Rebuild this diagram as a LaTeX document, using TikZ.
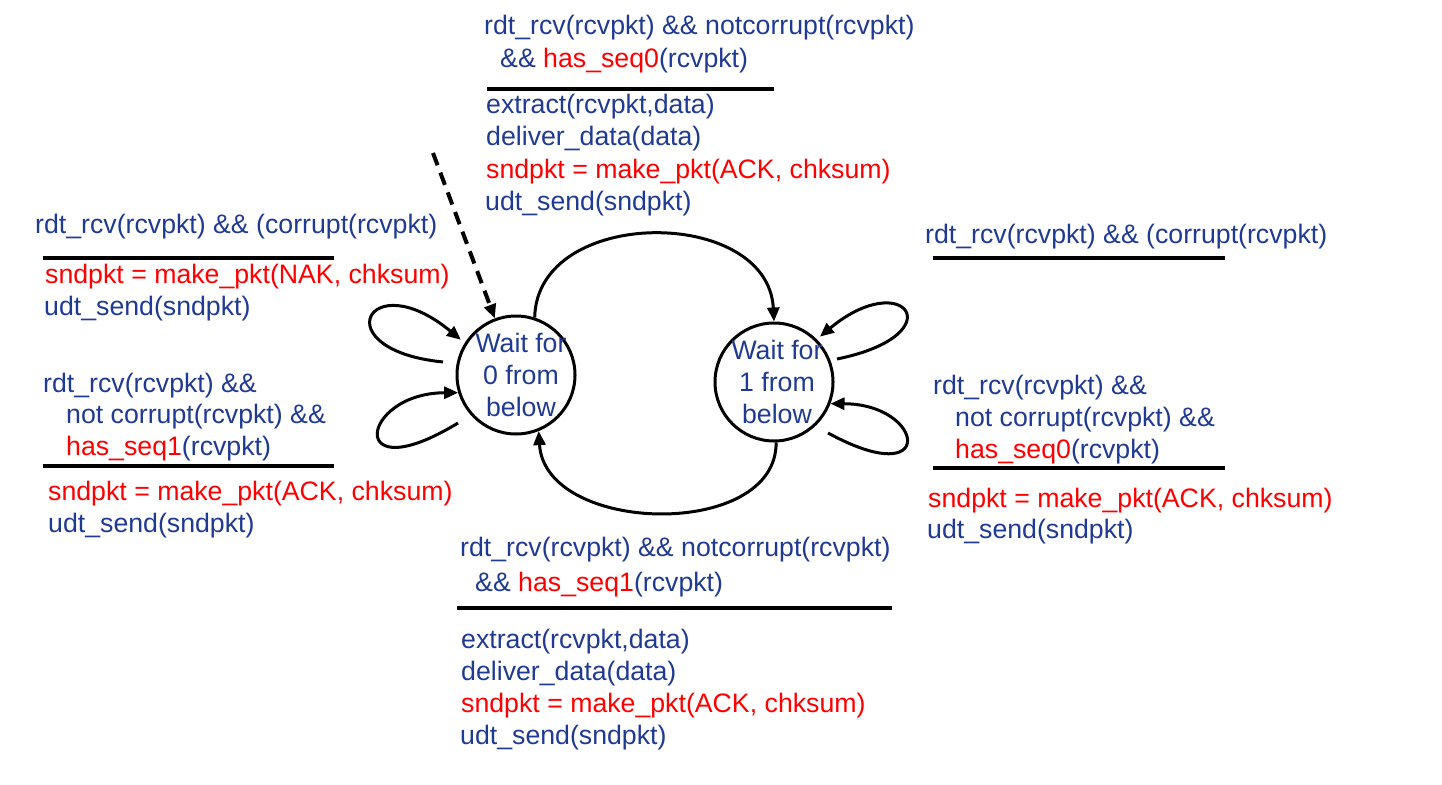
\documentclass[tikz,border=0pt]{standalone}
\usepackage{fontspec}
\setmainfont{Liberation Sans}
\usetikzlibrary{arrows.meta}
\definecolor{myblue}{RGB}{31,58,147}
\definecolor{myred}{RGB}{255,0,0}
\newcommand{\redtxt}[1]{\textcolor{myred}{#1}}
\begin{document}
\begin{tikzpicture}[x=1pt,y=-1pt,
  lbl/.style={anchor=base west, inner sep=0pt, font=\fontsize{26.7}{32}\selectfont, text=myblue},
  rlbl/.style={lbl, text=myred},
  bar/.style={line width=4pt},
  state/.style={circle, draw, line width=3pt, minimum size=118pt, inner sep=0pt},
  stxt/.style={align=center, inner sep=0pt, font=\fontsize{26.7}{32}\selectfont, text=myblue},
  arr/.style={line width=3pt, -{Triangle[length=14pt,width=12pt]}},
]
\useasboundingbox (0,0) rectangle (1442,784);

% states
\node[state] (s0) at (516,375) {};
\node[stxt] (s0t) at ([xshift=5pt]s0.center) {Wait for\\0 from\\below};
\node[state] (s1) at (774,382) {};
\node[stxt] (s1t) at ([xshift=3pt]s1.center) {Wait for\\1 from\\below};

% top block
\node[lbl] (t1) at (484,35) {rdt\_rcv(rcvpkt) \&\& notcorrupt(rcvpkt)};
\node[lbl] (t2) at (500,67) {\&\& \redtxt{has\_seq0}(rcvpkt)};
\draw[bar] (487,89) -- (774,89);
\node[lbl] (t3) at (486,113) {extract(rcvpkt,data)};
\node[lbl] (t4) at (486,145) {deliver\_data(data)};
\node[rlbl] (t5) at (486,178) {sndpkt = make\_pkt(ACK, chksum)};
\node[lbl] (t6) at (485,210) {udt\_send(sndpkt)};

% left upper
\node[lbl] (lu1) at (35,233) {rdt\_rcv(rcvpkt) \&\& (corrupt(rcvpkt)};
\draw[bar] (43,258) -- (334,258);
\node[rlbl] (lu2) at (45,283) {sndpkt = make\_pkt(NAK, chksum)};
\node[lbl] (lu3) at (44,315) {udt\_send(sndpkt)};

% left lower
\node[lbl] (ll1) at (43,392) {rdt\_rcv(rcvpkt) \&\&};
\node[lbl] (ll2) at (66,423) {not corrupt(rcvpkt) \&\&};
\node[lbl] (ll3) at (66,455) {\redtxt{has\_seq1}(rcvpkt)};
\draw[bar] (43,466) -- (334,466);
\node[rlbl] (ll4) at (48,500) {sndpkt = make\_pkt(ACK, chksum)};
\node[lbl] (ll5) at (48,532) {udt\_send(sndpkt)};

% right upper
\node[lbl] (ru1) at (925,243) {rdt\_rcv(rcvpkt) \&\& (corrupt(rcvpkt)};
\draw[bar] (933,258) -- (1225,258);

% right lower
\node[lbl] (rl1) at (933,394) {rdt\_rcv(rcvpkt) \&\&};
\node[lbl] (rl2) at (955,426) {not corrupt(rcvpkt) \&\&};
\node[lbl] (rl3) at (955,458) {\redtxt{has\_seq0}(rcvpkt)};
\draw[bar] (933,468) -- (1225,468);
\node[rlbl] (rl4) at (928,507) {sndpkt = make\_pkt(ACK, chksum)};
\node[lbl] (rl5) at (927,538) {udt\_send(sndpkt)};

% bottom block
\node[lbl] (b1) at (460,556) {rdt\_rcv(rcvpkt) \&\& notcorrupt(rcvpkt)};
\node[lbl] (b2) at (475,591) {\&\& \redtxt{has\_seq1}(rcvpkt)};
\draw[bar] (457,608) -- (892,608);
\node[lbl] (b3) at (461,648) {extract(rcvpkt,data)};
\node[lbl] (b4) at (461,680) {deliver\_data(data)};
\node[rlbl] (b5) at (461,712) {sndpkt = make\_pkt(ACK, chksum)};
\node[lbl] (b6) at (460,744) {udt\_send(sndpkt)};

% initial dashed arrow
\coordinate (init) at (433,153);
\draw[arr, line width=4pt, dash pattern=on 13pt off 8pt] (init) -- (s0);

% transitions between states
\draw[arr] (s0.72) .. controls (537,206) and (768,206) .. (s1.90);
\draw[arr] (s1.272) .. controls (777,540) and (545,535) .. (s0.-68);

% self loops
\coordinate (l1) at (443,362);
\coordinate (l2) at (458,423);
\coordinate (r1) at (837,359);
\coordinate (r2) at (828,433);
\draw[arr, shorten >=5pt] (l1) .. controls (323,350) and (368,263) .. (s0.148);
\draw[arr] (l2) .. controls (345,492) and (360,393) .. (s0.197);
\draw[arr, shorten >=4pt] (r1) .. controls (955,335) and (905,266) .. (s1.45);
\draw[arr] (r2) .. controls (938,493) and (925,404) .. (s1.-21);
\end{tikzpicture}
\end{document}
